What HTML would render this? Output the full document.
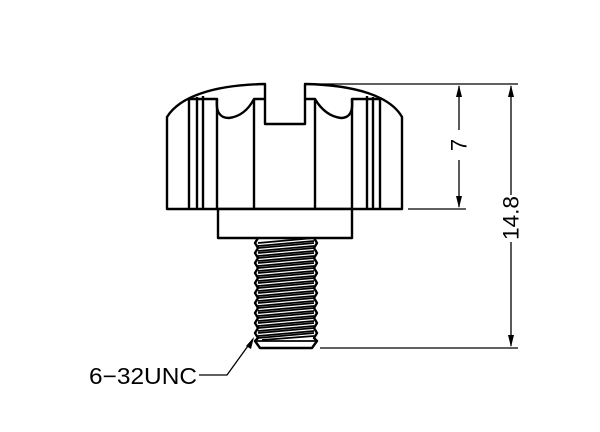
<!DOCTYPE html>
<html><head><style>html,body{margin:0;padding:0;background:#fff}svg{display:block}</style></head>
<body>
<svg width="600" height="432" viewBox="0 0 600 432" xmlns="http://www.w3.org/2000/svg">
<g fill="none" stroke="#000" stroke-width="2.4" stroke-linejoin="round">
<path d="M167,209 L167,117 C180,96 215,85 265,84 L265,124 L305,124 L305,84 C355,85 390,96 402,117 L402,209 Z" fill="#fff"/>
<path d="M189,98 V209 M197,97 V209 M203,96 V209 M217,99 V209 M254,99 V209 M315,99 V209 M352,99 V209 M367,96 V209 M373,97 V209 M380,98 V209"/>
<path d="M189,99 L217,99 Q215,118 229,118 Q245,116 254,99 L265,99"/>
<path d="M305,99 L315,99 Q325,116 341,118 Q354,118 352,99 L380,99"/>
<rect x="218" y="209" width="134" height="29" fill="#fff"/>
<path d="M258,238 L255,243 L258,248 L255,253 L258,258 L255,263 L258,268 L255,273 L258,278 L255,283 L258,288 L255,293 L258,298 L255,303 L258,308 L255,313 L258,318 L255,323 L258,328 L255,333 L258,338 L255,341 L260,348 L312,348 L317,341 L314,338 L317,333 L314,328 L317,323 L314,318 L317,313 L314,308 L317,303 L314,298 L317,293 L314,288 L317,283 L314,278 L317,273 L314,268 L317,263 L314,258 L317,253 L314,248 L317,243 L314,238"/>
<path d="M255,341 L317,341" stroke-width="1.8"/>
</g>
<g stroke="#000" stroke-width="1.8" fill="none">
<path d="M258,243 L314,238 M258,248 L314,243 M258,253 L314,248 M258,258 L314,253 M258,263 L314,258 M258,268 L314,263 M258,273 L314,268 M258,278 L314,273 M258,283 L314,278 M258,288 L314,283 M258,293 L314,288 M258,298 L314,293 M258,303 L314,298 M258,308 L314,303 M258,313 L314,308 M258,318 L314,313 M258,323 L314,318 M258,328 L314,323 M258,333 L314,328 M258,338 L314,333"/>
<path d="M258,246 L314,241 M258,251 L314,246 M258,256 L314,251 M258,261 L314,256 M258,266 L314,261 M258,271 L314,266 M258,276 L314,271 M258,281 L314,276 M258,286 L314,281 M258,291 L314,286 M258,296 L314,291 M258,301 L314,296 M258,306 L314,301 M258,311 L314,306 M258,316 L314,311 M258,321 L314,316 M258,326 L314,321 M258,331 L314,326 M258,336 L314,331 M262,340 L314,336"/>
</g>
<g stroke="#000" stroke-width="1.3" fill="none">
<path d="M306,84 H518 M408,209 H466 M320,348 H518"/>
<path d="M459,86 V130 M459,160 V207"/>
<path d="M511,86 V195 M511,242 V346"/>
<path d="M199,375 H227 L253,339"/>
</g>
<g fill="#000">
<path d="M459,85 L456,97 L462,97 Z M459,208 L456,196 L462,196 Z"/>
<path d="M511,85 L508,97 L514,97 Z M511,347 L508,335 L514,335 Z"/>
<path d="M254,337 L246,346 L251,349 Z"/>
</g>
<g font-family="Liberation Sans, sans-serif" font-size="22" fill="#000">
<text x="459" y="145" transform="rotate(-90 459 145)" text-anchor="middle" dominant-baseline="central">7</text>
<text x="511" y="218" transform="rotate(-90 511 218)" text-anchor="middle" dominant-baseline="central" textLength="44" lengthAdjust="spacingAndGlyphs">14.8</text>
<text x="89" y="384" font-size="23" textLength="108" lengthAdjust="spacingAndGlyphs">6−32UNC</text>
</g>
</svg>
</body></html>
